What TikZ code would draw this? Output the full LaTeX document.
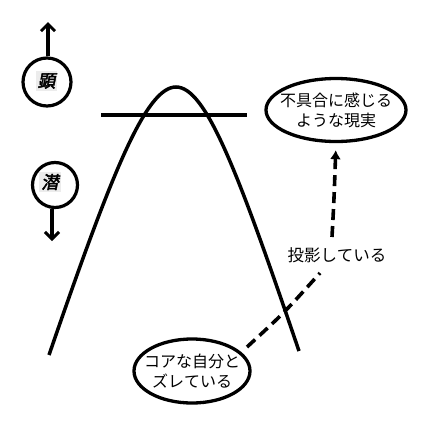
\documentclass[tikz,border=0pt]{standalone}
\usepackage{fontspec}
\newfontfamily\jp{Noto Sans CJK JP}
\newfontfamily\jpb[FakeSlant=0.2,FakeBold=2.5]{Noto Sans CJK JP}
\usetikzlibrary{arrows.meta,shapes.geometric}
\definecolor{hl}{RGB}{236,236,236}
\begin{document}
\begin{tikzpicture}[x=1pt,y=-1pt,
  thick line/.style={line width=3.5pt},
  circ/.style={circle,draw,line width=3.2pt,minimum size=48pt,inner sep=0pt},
  oval/.style={ellipse,draw,line width=3.3pt,inner xsep=-25pt,inner ysep=-14pt,align=center,font=\jp\fontsize{16}{20}\selectfont},
  mark label/.style={fill=hl,inner sep=2pt,font=\jpb\fontsize{17.5}{17.5}\selectfont},
  dashconn/.style={line width=3.6pt,dash pattern=on 11pt off 6pt}]
\useasboundingbox (0,0) rectangle (424,429);
% circles
\node[circ] (ken) at (47,82) {};
\node[mark label] (kent) at (46.5,81) {顕};
\node[circ,minimum size=45pt] (sen) at (55,185) {};
\node[mark label] (sent) at (50,182) {潜};
\coordinate (upend) at (48,22);
\coordinate (downend) at (52,241);
\draw[thick line,-{Straight Barb[length=7pt,width=14pt,line width=3pt]}] (ken.north -| upend) -- (upend);
\draw[thick line,-{Straight Barb[length=7pt,width=14pt,line width=3pt]}] (sen.south -| downend) -- (downend);
% horizontal line
\coordinate (hl1) at (101,115);
\coordinate (hl2) at (247,115);
\draw[thick line] (hl1) -- (hl2);
% curve
\coordinate (lf) at (49,355);
\coordinate (ap) at (176,87);
\coordinate (rf) at (299,351);
\draw[thick line] (lf) .. controls (112,172) and (146,87) .. (ap) .. controls (206,87) and (238,172) .. (rf);
% ellipses
\node[oval,minimum width=140pt,minimum height=63pt] (top) at (336,110) {不具合に感じる\\ような現実};
\node[oval,minimum width=116pt,minimum height=64pt] (bot) at (192,371) {コアな自分と\\ズレている};
% dashed connector
\node[font=\jp\fontsize{16.5}{16.5}\selectfont,inner sep=0pt] (lab) at (337,255) {投影している};
\coordinate (s1) at (247,347);
\coordinate (e1) at (320,273);
\coordinate (s2) at (332,237);
\draw[dashconn] (s1) .. controls (284,313) .. (e1);
\draw[dashconn,-{Latex[length=9pt,width=11pt]},shorten >=7pt] (s2) .. controls (334,200) .. (top.south);
\end{tikzpicture}
\end{document}
